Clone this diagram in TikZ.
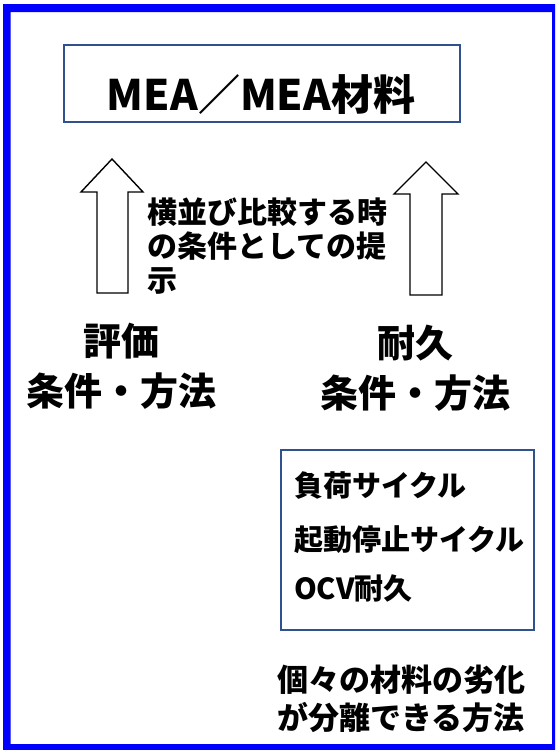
\documentclass[tikz,border=0pt]{standalone}
\usepackage{fontspec}
\setmainfont{Noto Sans CJK JP}
\definecolor{boxblue}{RGB}{47,82,143}
\definecolor{frameblue}{RGB}{0,0,255}
\tikzset{
  boxline/.style={draw=boxblue, fill=white},
  blockarrow/.style={draw=black, fill=white, line width=1.4pt, line join=miter},
  txt/.style={inner sep=0pt, text=black, font=\bfseries},
}
\begin{document}
\begin{tikzpicture}[x=1pt,y=-1pt]
\useasboundingbox (0,0) rectangle (558,750);
% outer blue frame
\fill[frameblue, even odd rule] (3,4) rectangle (555,750) (10.5,12) rectangle (552,744);
% top box
\draw[boxline, line width=2.2pt] (64,45) rectangle (460,122);
\node[txt, font=\bfseries\fontsize{42}{50}\selectfont] (mea) at (261,95) {MEA／MEA材料};
% block arrows
\draw[blockarrow] (97,293) -- (97,192) -- (81,192) -- (112,159) -- (143,192) -- (128,192) -- (128,293) -- cycle;
\draw[blockarrow] (410,295) -- (410,194) -- (394,194) -- (426,162) -- (458,194) -- (442,194) -- (442,295) -- cycle;
% middle text
\node[txt, anchor=west, align=left, font=\bfseries\fontsize{30}{34}\selectfont] (cmp) at (147,246) {横並び比較する時\\の条件としての提\\示};
% labels
\node[txt, align=center, font=\bfseries\fontsize{38}{50}\selectfont] (hyoka) at (122,366) {評価\\条件・方法};
\node[txt, align=center, font=\bfseries\fontsize{38}{50}\selectfont] (taikyu) at (415,368) {耐久\\条件・方法};
% bottom box
\draw[boxline, line width=1.6pt] (281,450) rectangle (534,630);
\node[txt, anchor=west, font=\bfseries\fontsize{29}{34}\selectfont] (l1) at (294,486) {負荷サイクル};
\node[txt, anchor=west, font=\bfseries\fontsize{29}{34}\selectfont] (l2) at (294,540) {起動停止サイクル};
\node[txt, anchor=west, font=\bfseries\fontsize{29}{34}\selectfont] (l3) at (294,588) {OCV耐久};
% bottom text
\node[txt, anchor=west, align=left, font=\bfseries\fontsize{31}{38}\selectfont] (sep) at (277,699) {個々の材料の劣化\\が分離できる方法};
\end{tikzpicture}
\end{document}
